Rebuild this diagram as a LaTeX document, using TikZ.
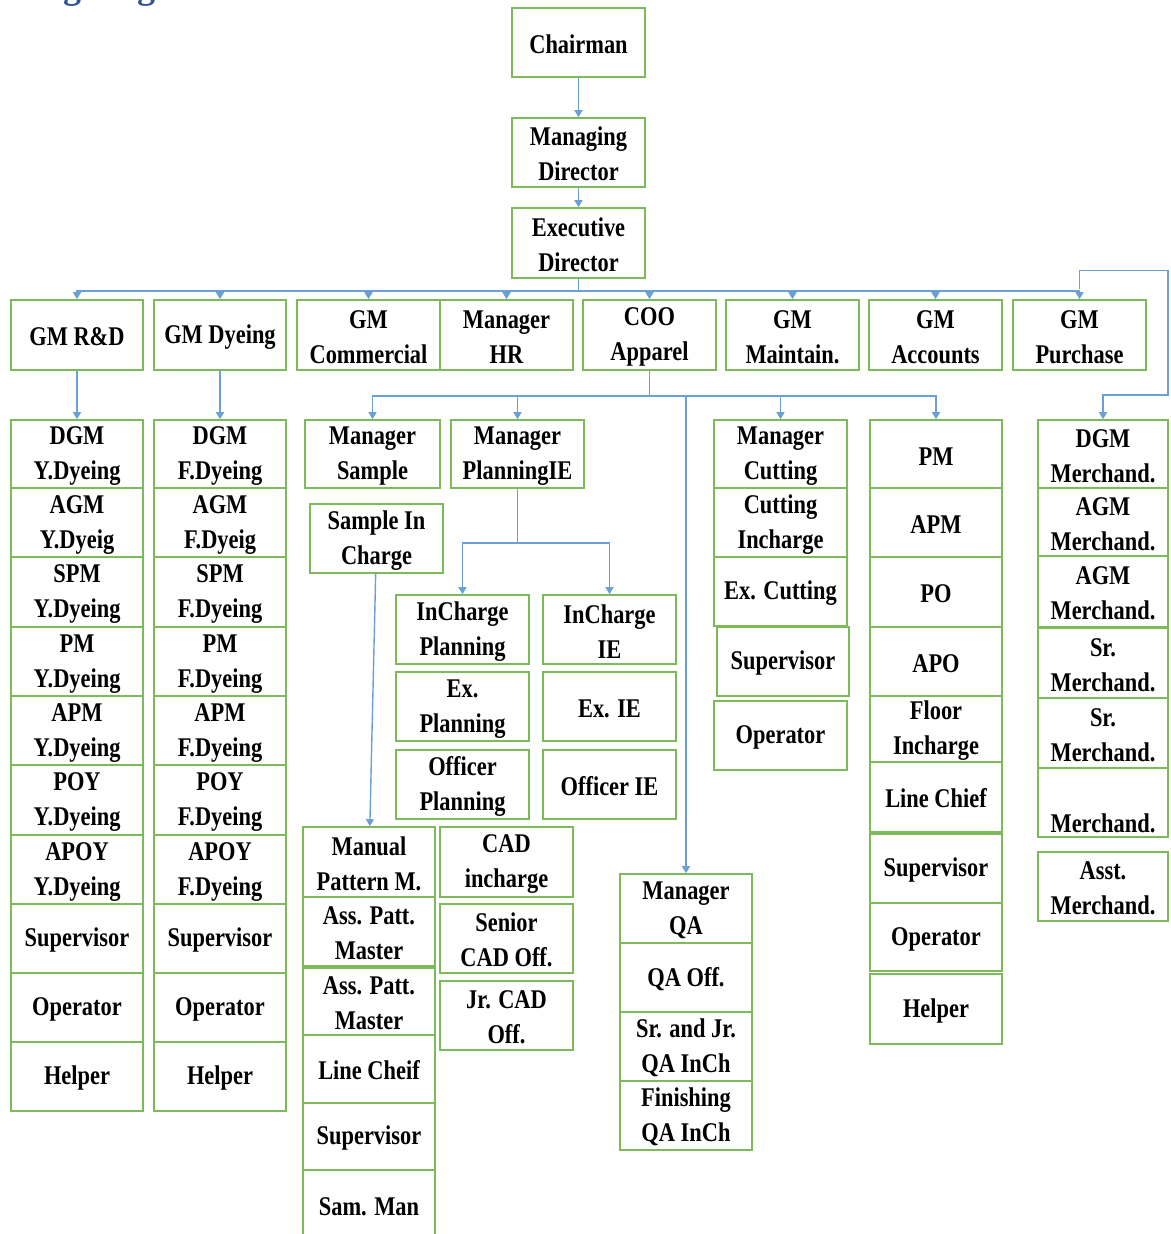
\documentclass[tikz,border=0pt]{standalone}
\usepackage{fontspec}
\usetikzlibrary{arrows.meta}
\newfontfamily\bxfont{Liberation Serif}[FakeStretch=0.83]
\newfontfamily\headfont{Liberation Serif}
\definecolor{boxgreen}{HTML}{7DBB5A}
\definecolor{conblue}{HTML}{6A9FD8}
\definecolor{headblue}{HTML}{2F5597}
\newcommand\ob[6]{\node[obox, minimum width={(#4-#2)*1pt}, minimum height={(#5-#3)*1pt}] (#1) at ({(#2+#4)/2},{(#3+#5)/2}) {\rule{0pt}{22pt}#6};}
\begin{document}
\begin{tikzpicture}[x=1pt,y=-1pt,
  obox/.style={draw=boxgreen, line width=1.6pt, fill=white, rectangle, inner sep=1pt, align=center,
    font=\bxfont\bfseries\fontsize{27}{35}\selectfont, text=black},
  con/.style={draw=conblue, line width=1.4pt, -{Triangle[width=8pt,length=7pt]}, color=conblue},
  line/.style={draw=conblue, line width=1.4pt}]
\useasboundingbox (0,0) rectangle (1170,1234);
\clip (0,0) rectangle (1170,1234);
\node[anchor=base west, text=headblue, font=\headfont\bfseries\fontsize{36}{40}\selectfont, inner sep=0pt] (title) at (19,-1.5) {Organogram};
% top
\ob{ch}{512}{8}{645}{77}{Chairman}
\ob{md}{512}{118}{645}{187}{Managing\\Director}
\ob{ed}{512}{208}{645}{278}{Executive\\Director}
% row 2
\ob{grd}{11}{300}{143}{370}{GM R\&D}
\ob{gdy}{154}{300}{286}{370}{GM Dyeing}
\ob{gcm}{297}{300}{440}{370}{GM\\Commercial}
\ob{mhr}{440}{300}{573}{370}{Manager\\HR}
\ob{coo}{583}{300}{716}{370}{COO\\Apparel}
\ob{gmt}{726}{300}{859}{370}{GM\\Maintain.}
\ob{gac}{869}{300}{1002}{370}{GM\\Accounts}
\ob{gpu}{1013}{300}{1146}{370}{GM\\Purchase}
% Y dyeing column
\ob{ya}{11}{420}{143}{488}{DGM\\Y.Dyeing}
\ob{yb}{11}{488}{143}{557}{AGM\\Y.Dyeig}
\ob{yc}{11}{557}{143}{627}{SPM\\Y.Dyeing}
\ob{yd}{11}{627}{143}{696}{PM\\Y.Dyeing}
\ob{ye}{11}{696}{143}{765}{APM\\Y.Dyeing}
\ob{yf}{11}{765}{143}{835}{POY\\Y.Dyeing}
\ob{yg}{11}{835}{143}{904}{APOY\\Y.Dyeing}
\ob{yh}{11}{904}{143}{973}{Supervisor}
\ob{yi}{11}{973}{143}{1042}{Operator}
\ob{yj}{11}{1042}{143}{1111}{Helper}
% F dyeing column
\ob{fa}{154}{420}{286}{488}{DGM\\F.Dyeing}
\ob{fb}{154}{488}{286}{557}{AGM\\F.Dyeig}
\ob{fc}{154}{557}{286}{627}{SPM\\F.Dyeing}
\ob{fd}{154}{627}{286}{696}{PM\\F.Dyeing}
\ob{fe}{154}{696}{286}{765}{APM\\F.Dyeing}
\ob{ff}{154}{765}{286}{835}{POY\\F.Dyeing}
\ob{fg}{154}{835}{286}{904}{APOY\\F.Dyeing}
\ob{fh}{154}{904}{286}{973}{Supervisor}
\ob{fi}{154}{973}{286}{1042}{Operator}
\ob{fj}{154}{1042}{286}{1111}{Helper}
% sample / planning
\ob{msa}{305}{420}{440}{488}{Manager\\Sample}
\ob{mpl}{451}{420}{584}{488}{Manager\\PlanningIE}
\ob{sic}{310}{504}{443}{573}{Sample In\\Charge}
\ob{icp}{396}{595}{529}{664}{InCharge\\Planning}
\ob{ici}{543}{595}{676}{664}{InCharge\\IE}
\ob{exp}{396}{672}{529}{741}{Ex.\\Planning}
\ob{exi}{543}{672}{676}{741}{Ex. IE}
\ob{ofp}{396}{750}{529}{819}{Officer\\Planning}
\ob{ofi}{543}{750}{676}{819}{Officer IE}
% pattern column
\ob{mpm}{303}{827}{435}{897}{Manual\\Pattern M.}
\ob{apa}{303}{897}{435}{966}{Ass. Patt.\\Master}
\ob{apb}{303}{968}{435}{1035}{Ass. Patt.\\Master}
\ob{lcf}{303}{1035}{435}{1103}{Line Cheif}
\ob{spp}{303}{1103}{435}{1170}{Supervisor}
\ob{smn}{303}{1170}{435}{1240}{Sam. Man}
% CAD column
\ob{cad}{440}{827}{573}{897}{CAD\\incharge}
\ob{scd}{440}{904}{573}{973}{Senior\\CAD Off.}
\ob{jcd}{440}{981}{573}{1050}{Jr. CAD\\Off.}
% QA column
\ob{mqa}{620}{874}{752}{943}{Manager\\QA}
\ob{qao}{620}{943}{752}{1012}{QA Off.}
\ob{sqa}{620}{1012}{752}{1081}{Sr. and Jr.\\QA InCh}
\ob{fqa}{620}{1081}{752}{1150}{Finishing\\QA InCh}
% cutting column
\ob{mct}{714}{420}{847}{488}{Manager\\Cutting}
\ob{cti}{714}{488}{847}{557}{Cutting\\Incharge}
\ob{exc}{714}{557}{847}{626}{Ex. Cutting}
\ob{spc}{717}{627}{849}{696}{Supervisor}
\ob{opc}{714}{701}{847}{770}{Operator}
% PM column
\ob{pm}{870}{420}{1002}{488}{PM}
\ob{apm}{870}{488}{1002}{557}{APM}
\ob{po}{870}{557}{1002}{627}{PO}
\ob{apo}{870}{627}{1002}{696}{APO}
\ob{fli}{870}{696}{1002}{762}{Floor\\Incharge}
\ob{lch}{870}{762}{1002}{832}{Line Chief}
\ob{spm}{870}{834}{1002}{903}{Supervisor}
\ob{opm}{870}{903}{1002}{971}{Operator}
\ob{hpm}{870}{974}{1002}{1044}{Helper}
% merchandising column
\ob{dgm}{1038}{420}{1168}{488}{DGM\\Merchand.}
\ob{agma}{1038}{488}{1168}{556}{AGM\\Merchand.}
\ob{agmb}{1038}{556}{1168}{627}{AGM\\Merchand.}
\ob{srma}{1038}{628}{1168}{698}{Sr.\\Merchand.}
\ob{srmb}{1038}{698}{1168}{768}{Sr.\\Merchand.}
\ob{mer}{1038}{768}{1168}{837}{\strut\\Merchand.}
\ob{asm}{1038}{852}{1168}{921}{Asst.\\Merchand.}
% connectors
\draw[con] (ch) -- (md);
\draw[con] (md) -- (ed);
\foreach \t in {grd,gdy,gcm,mhr,coo,gmt,gac,gpu}
  \draw[con] (ed.south) -- ++(0,12) -| (\t.north);
\draw[con] (gpu.north) ++(0,-10) -- ++(0,-19) -| (1168,395) -| (dgm.north);
\draw[con] (grd) -- (ya);
\draw[con] (gdy) -- (fa);
\foreach \t in {msa,mpl,mct,pm,mqa}
  \draw[con] (coo.south) -- ++(0,25) -| (\t.north);
\foreach \t in {icp,ici}
  \draw[con] (mpl.south) -- ++(0,54) -| (\t.north);
\draw[con] (sic) -- (mpm);
\end{tikzpicture}
\end{document}
